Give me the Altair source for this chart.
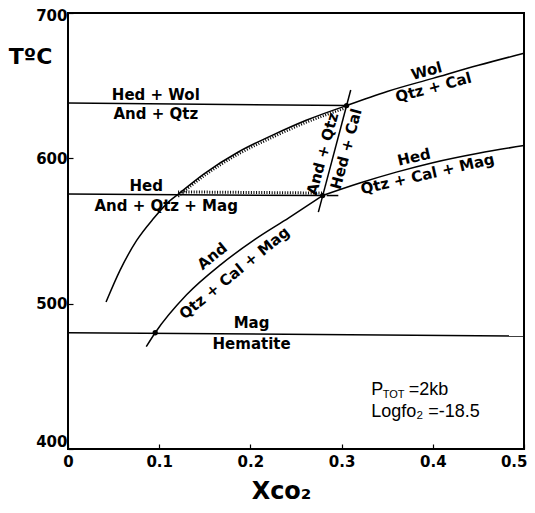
import altair as alt
import pandas as pd

# ---- reaction curves (Xco2, T in deg C) ----
wol_x = [0.3055, 0.35, 0.40, 0.45, 0.50]
wol_t = [636.3, 646.0, 655.0, 664.0, 672.3]

hed_x = [0.2792, 0.32, 0.36, 0.40, 0.45, 0.50]
hed_t = [574.4, 583.0, 590.5, 597.0, 603.5, 608.8]

and_x = [0.0858, 0.0956, 0.130, 0.1675, 0.205, 0.2425, 0.2792]
and_t = [470.4, 480.0, 506.1, 526.9, 544.2, 559.2, 574.4]

up_x = [0.0417, 0.057, 0.0753, 0.0935, 0.1118, 0.1207, 0.1488, 0.1863, 0.2238, 0.2612, 0.3055]
up_t = [501.1, 522.9, 543.5, 558.4, 570.9, 575.3, 589.2, 604.2, 615.8, 626.2, 636.3]

hw_x = [0.0, 0.3055]          # Hed + Wol / And + Qtz
hw_t = [638.0, 636.3]
hq_x = [0.0, 0.2792]          # Hed / And + Qtz + Mag
hq_t = [575.4, 574.4]
mh_x = [0.0, 0.5]             # Mag / Hematite
mh_t = [480.0, 477.7]
st_x = [0.2745, 0.310]        # And + Qtz / Hed + Cal
st_t = [563.0, 647.0]
ex_x = [0.2836, 0.2964]       # short metastable extension
ex_t = [574.4, 574.4]

# invariant points
pt_x = [0.0956, 0.2792, 0.3055]
pt_t = [480.0, 574.4, 636.3]

# hatched field (between upper curve and lower horizontal)
hatch_line_x = [0.1207, 0.2792]
hatch_line_t = [575.2, 574.4]

# labels
lab_text = ["Hed + Wol", "And + Qtz", "Hed", "And + Qtz + Mag", "Wol", "Qtz + Cal",
            "Hed", "Qtz + Cal + Mag", "And", "Qtz + Cal + Mag", "And + Qtz", "Hed + Cal",
            "Mag", "Hematite"]
lab_x = [0.0963, 0.0963, 0.0858, 0.1076, 0.3932, 0.4007,
         0.3793, 0.3943, 0.1582, 0.1825, 0.2792, 0.3051,
         0.2013, 0.2013]
lab_t = [643.9, 630.8, 581.1, 567.3, 660.1, 648.8,
         600.8, 589.2, 532.7, 521.1, 603.1, 606.5,
         486.5, 472.0]
lab_angle = [0, 0, 0, 0, 345, 345, 347, 347, 321, 321, 285, 285, 0, 0]

note_text = ["P", "TOT", "=2kb", "Logfo\u2082 =-18.5"]
note_x = [0.3325, 0.3450, 0.3735, 0.3325]
note_t = [440.3, 437.0, 440.3, 425.4]
note_size = [18, 11, 18, 18]

FONT = "DejaVu Sans"
NOTE_FONT = "Liberation Sans"


def seg(name, xs, ts):
    return pd.DataFrame({"seg": name, "ord": range(len(xs)), "x": xs, "t": ts})


lines_df = pd.concat([
    seg("wol", wol_x, wol_t), seg("hed", hed_x, hed_t), seg("and", and_x, and_t),
    seg("up", up_x, up_t), seg("hw", hw_x, hw_t), seg("hq", hq_x, hq_t),
    seg("mh", mh_x, mh_t), seg("st", st_x, st_t), seg("ex", ex_x, ex_t),
], ignore_index=True)

xscale = alt.Scale(domain=[0, 0.5], nice=False, zero=False)
yscale = alt.Scale(domain=[400, 700], nice=False, zero=False)

xaxis = alt.Axis(values=[0, 0.1, 0.2, 0.3, 0.4, 0.5], title="Xco\u2082",
                 labelExpr="datum.value == 0 ? '0' : format(datum.value, '.1f')",
                 labelAlign={"condition": {"test": "datum.value >= 0.5", "value": "right"},
                             "value": "center"},
                 labelOffset={"condition": {"test": "datum.value >= 0.5", "value": 3},
                              "value": 0},
                 offset=-5, tickSize=5, domain=False, grid=False, labelPadding=5,
                 labelFontSize=15, labelFontWeight="bold", labelFont=FONT, labelColor="black",
                 titleFontSize=24, titleFontWeight="bold", titleFont=FONT, titleColor="black",
                 titleX=213, titleY=47, titleAlign="center", titleBaseline="middle",
                 tickColor="black", tickWidth=1.2, labelFlush=False, labelOverlap=False)
yaxis = alt.Axis(values=[400, 500, 600, 700], title="T\u00baC",
                 labelOffset={"condition": {"test": "datum.value >= 700", "value": 2},
                              "value": 0},
                 labelBaseline={"condition": {"test": "datum.value <= 400", "value": "bottom"},
                                "value": "middle"},
                 offset=-5, tickSize=5, domain=False, grid=False, labelPadding=1,
                 labelFontSize=15, labelFontWeight="bold", labelFont=FONT, labelColor="black",
                 titleFontSize=22, titleFontWeight="bold", titleFont=FONT, titleColor="black",
                 titleAngle=0, titleX=-43, titleY=43, titleAlign="center", titleBaseline="middle",
                 tickColor="black", tickWidth=1.2, labelFlush=False, labelOverlap=False)

base_x = alt.X("x:Q", scale=xscale, axis=xaxis)
base_y = alt.Y("t:Q", scale=yscale, axis=yaxis)

lines = alt.Chart(lines_df).mark_line(color="black", strokeWidth=1.5, interpolate="monotone").encode(
    x=base_x, y=base_y, detail="seg:N", order="ord:Q")

hatch_a = alt.Chart(seg("h1", hatch_line_x, hatch_line_t)).mark_line(
    color="black", strokeWidth=3, strokeDash=[1, 1.6], yOffset=-2.5).encode(
    x=alt.X("x:Q", scale=xscale), y=alt.Y("t:Q", scale=yscale), order="ord:Q")
hatch_b = alt.Chart(seg("h2", up_x[5:], up_t[5:])).mark_line(
    color="black", strokeWidth=2.5, strokeDash=[1, 1.6], yOffset=2.2, interpolate="monotone").encode(
    x=alt.X("x:Q", scale=xscale), y=alt.Y("t:Q", scale=yscale), order="ord:Q")

pts = alt.Chart(pd.DataFrame({"x": pt_x, "t": pt_t})).mark_circle(
    color="black", size=28, opacity=1).encode(
    x=alt.X("x:Q", scale=xscale), y=alt.Y("t:Q", scale=yscale))

labels = alt.Chart(pd.DataFrame({"text": lab_text, "x": lab_x, "t": lab_t, "angle": lab_angle})).mark_text(
    font=FONT, fontSize=15, fontWeight="bold", color="black", align="center", baseline="middle").encode(
    x=alt.X("x:Q", scale=xscale), y=alt.Y("t:Q", scale=yscale), text="text:N",
    angle=alt.Angle("angle:Q", scale=None))

notes = alt.Chart(pd.DataFrame({"text": note_text, "x": note_x, "t": note_t, "size": note_size})).mark_text(
    font=NOTE_FONT, fontWeight="normal", color="black", align="left", baseline="middle").encode(
    x=alt.X("x:Q", scale=xscale), y=alt.Y("t:Q", scale=yscale), text="text:N",
    size=alt.Size("size:Q", scale=None))

chart = alt.layer(lines, hatch_a, hatch_b, pts, labels, notes).properties(
    width=456, height=436,
    autosize=alt.AutoSizeParams(type="none"),
    padding={"left": 60, "top": 5, "right": 3, "bottom": 56},
).configure_view(stroke="black", strokeWidth=2)

chart.save("out.html", embed_options={"renderer": "svg", "actions": False})
